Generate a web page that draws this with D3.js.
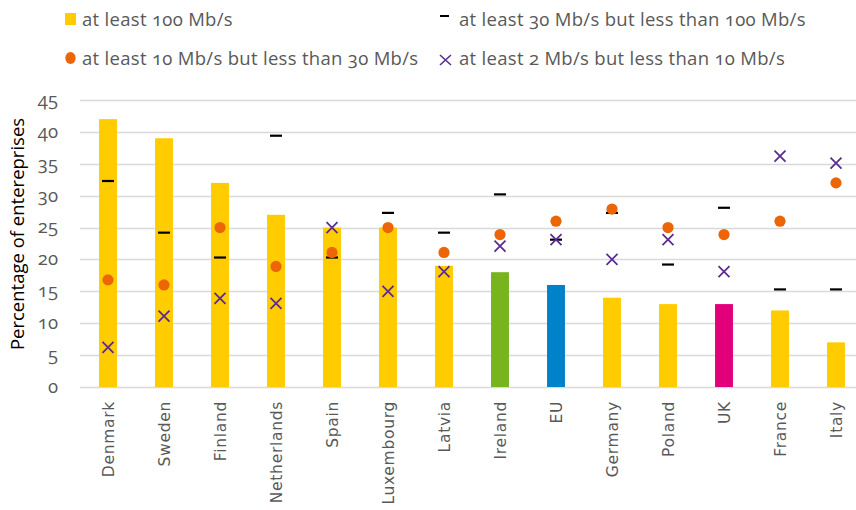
<!DOCTYPE html>
<html><head><meta charset="utf-8">
<script src="https://cdn.jsdelivr.net/npm/d3@7"></script>
<style>body{margin:0;background:#fff}</style>
</head><body><svg id="c" width="856" height="510"></svg>
<script>
const categories = ["Denmark","Sweden","Finland","Netherlands","Spain","Luxembourg","Latvia","Ireland","EU","Germany","Poland","UK","France","Italy"];
const atLeast100 = [42,39,32,27,25,25,19,18,16,14,13,13,12,7];
const from30to100 = [32.3,24.2,20.3,39.4,20.3,27.3,24.2,30.2,23.1,27.3,19.2,28.1,15.3,15.3];
const from10to30 = [16.8,16.0,25.0,18.9,21.1,25.0,21.1,23.9,26.0,27.9,25.0,23.9,26.0,32.0];
const from2to10 = [6.2,11.1,13.9,13.1,25.0,15.0,18.1,22.1,23.1,20.0,23.1,18.1,36.2,35.1];
const yTicks = [0,5,10,15,20,25,30,35,40,45];
const seriesNames = ["at least 100 Mb/s","at least 30 Mb/s but less than 100 Mb/s","at least 10 Mb/s but less than 30 Mb/s","at least 2 Mb/s but less than 10 Mb/s"];
const yTitle = "Percentage  of entereprises";

const svg = d3.select("#c");
const y = d3.scaleLinear().domain([0,45]).range([387,100]);
const x = d3.scaleBand().domain(categories).range([80,864]).paddingInner(0.68).paddingOuter(0.34);
const barColor = c => ({Ireland:"#78b41e", EU:"#0082c8", UK:"#e2007a"})[c] || "#ffcc00";
const gridColor = "#d9d9d9", textGray = "#595959";

// gridlines
svg.append("g").selectAll("line").data(yTicks).join("line")
  .attr("x1",80).attr("x2",856).attr("y1",d=>Math.round(y(d))+0.5).attr("y2",d=>Math.round(y(d))+0.5)
  .attr("stroke",gridColor).attr("stroke-width",1.5);

// y tick labels
svg.append("g").selectAll("text").data(yTicks).join("text")
  .attr("x",58).attr("y",d=>y(d)).attr("dy","0.32em").attr("text-anchor","end")
  .attr("font-family","Open Sans").attr("font-size",18.5).style("font-feature-settings","'onum' 1")
  .attr("fill",textGray).text(d=>d);

// y title
svg.append("text").attr("transform","translate(24,234) rotate(-90)").attr("text-anchor","middle")
  .attr("font-family","Open Sans").attr("font-size",18.5).attr("fill","#000").text(yTitle);

// bars
svg.append("g").selectAll("rect").data(categories).join("rect")
  .attr("x",d=>x(d)).attr("width",x.bandwidth())
  .attr("y",(d,i)=>y(atLeast100[i])).attr("height",(d,i)=>y(0)-y(atLeast100[i]))
  .attr("fill",d=>barColor(d));

const cx = d => x(d)+x.bandwidth()/2;
// dashes
svg.append("g").selectAll("line").data(categories).join("line")
  .attr("x1",d=>cx(d)-6).attr("x2",d=>cx(d)+6)
  .attr("y1",(d,i)=>y(from30to100[i])).attr("y2",(d,i)=>y(from30to100[i]))
  .attr("stroke","#000").attr("stroke-width",2.2);
// circles
svg.append("g").selectAll("circle").data(categories).join("circle")
  .attr("cx",d=>cx(d)).attr("cy",(d,i)=>y(from10to30[i])).attr("r",5.6).attr("fill","#ec6608");
// crosses
svg.append("g").selectAll("path").data(categories).join("path")
  .attr("d",(d,i)=>{const px=cx(d), py=y(from2to10[i]), s=5.5; return `M${px-s},${py-s}L${px+s},${py+s}M${px-s},${py+s}L${px+s},${py-s}`;})
  .attr("stroke","#5c2d91").attr("stroke-width",1.8).attr("fill","none");

// x labels
svg.append("g").selectAll("text").data(categories).join("text")
  .attr("transform",d=>`translate(${cx(d)},401) rotate(-90)`).attr("dy","0.36em").attr("text-anchor","end")
  .attr("font-family","DejaVu Sans").attr("font-size",15.5).attr("letter-spacing",0.7)
  .attr("fill",textGray).text(d=>d);

// legend
const leg = [
  {name:seriesNames[0], mx:65, my:19, tx:82, ty:26, type:"square"},
  {name:seriesNames[1], mx:440, my:16, tx:459, ty:26, type:"dash"},
  {name:seriesNames[2], mx:65, my:58, tx:82, ty:65, type:"circle"},
  {name:seriesNames[3], mx:440, my:60, tx:459, ty:65, type:"cross"}
];
const lg = svg.append("g");
leg.forEach(l=>{
  if(l.type==="square") lg.append("rect").attr("x",l.mx).attr("y",l.my-6).attr("width",11).attr("height",12).attr("fill","#ffcc00");
  if(l.type==="dash") lg.append("line").attr("x1",l.mx).attr("x2",l.mx+9).attr("y1",l.my).attr("y2",l.my).attr("stroke","#000").attr("stroke-width",2);
  if(l.type==="circle") lg.append("ellipse").attr("cx",l.mx+5.5).attr("cy",l.my).attr("rx",5.2).attr("ry",6).attr("fill","#ec6608");
  if(l.type==="cross") lg.append("path").attr("d",`M${l.mx},${l.my-5}L${l.mx+11},${l.my+5}M${l.mx},${l.my+5}L${l.mx+11},${l.my-5}`).attr("stroke","#5c2d91").attr("stroke-width",1.6);
  lg.append("text").attr("x",l.tx).attr("y",l.ty).attr("font-family","Open Sans").attr("font-size",18.5)
    .attr("letter-spacing",0.3).style("font-feature-settings","'onum' 1").attr("fill",textGray).text(l.name);
});
</script></body></html>
